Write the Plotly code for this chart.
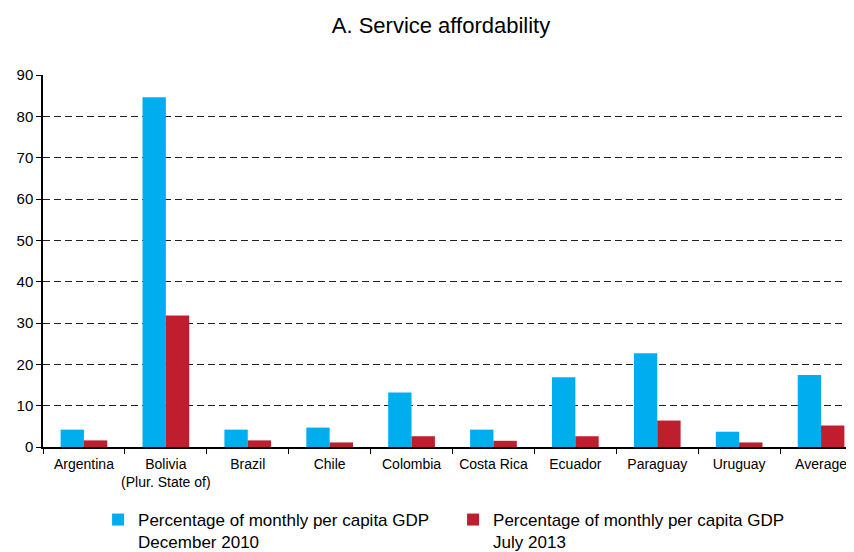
import plotly.graph_objects as go

categories = ["Argentina", "Bolivia<br>(Plur. State of)", "Brazil", "Chile", "Colombia",
              "Costa Rica", "Ecuador", "Paraguay", "Uruguay", "Average"]
dec_2010 = [4.2, 84.6, 4.2, 4.7, 13.2, 4.2, 16.9, 22.7, 3.7, 17.4]
jul_2013 = [1.6, 31.8, 1.6, 1.1, 2.6, 1.5, 2.6, 6.4, 1.1, 5.2]
series_names = ["Percentage of monthly per capita GDP<br>December 2010",
                "Percentage of monthly per capita GDP<br>July 2013"]
y_ticks = [0, 10, 20, 30, 40, 50, 60, 70, 80, 90]

FONT = "Liberation Sans, Arial, sans-serif"
W, H = 846, 544  # page body adds an 8px offset

fig = go.Figure()
fig.add_trace(go.Bar(x=categories, y=dec_2010, name=series_names[0],
                     marker=dict(color="#00AEEF", line=dict(width=0))))
fig.add_trace(go.Bar(x=categories, y=jul_2013, name=series_names[1],
                     marker=dict(color="#BE1E2D", line=dict(width=0))))

fig.update_layout(
    width=W, height=H,
    paper_bgcolor="white", plot_bgcolor="white",
    font=dict(family=FONT, size=14, color="black"),
    margin=dict(l=35, r=1, t=67, b=105, autoexpand=False),
    barmode="group", bargap=0.43, bargroupgap=0,
    title=dict(text="A. Service affordability", x=433 / W, xanchor="center",
               yref="container", y=1 - 17 / H, yanchor="middle",
               font=dict(size=22, color="black")),
    showlegend=True,
    legend=dict(orientation="h", x=0.068, xanchor="left", xref="paper",
                yref="container", y=1 - 494 / H, yanchor="top",
                font=dict(size=17), valign="top",
                entrywidth=310, entrywidthmode="pixels", itemwidth=30,
                bgcolor="rgba(0,0,0,0)"),
    xaxis=dict(range=[-0.5, 9.39], showline=True, linecolor="black", linewidth=1.5,
               ticks="outside", tickson="boundaries", ticklen=5, tickcolor="black",
               showgrid=False, tickangle=0, tickfont=dict(size=14),
               ticklabelstandoff=3, fixedrange=True),
    yaxis=dict(range=[0, 90], tickvals=y_ticks, showline=True, linecolor="black",
               linewidth=1.5, ticks="outside", ticklen=5, tickcolor="black",
               showgrid=True, gridcolor="#222", gridwidth=1, griddash="7px,4px",
               zeroline=False, tickfont=dict(size=15), fixedrange=True),
)

fig.write_html("out.html")
